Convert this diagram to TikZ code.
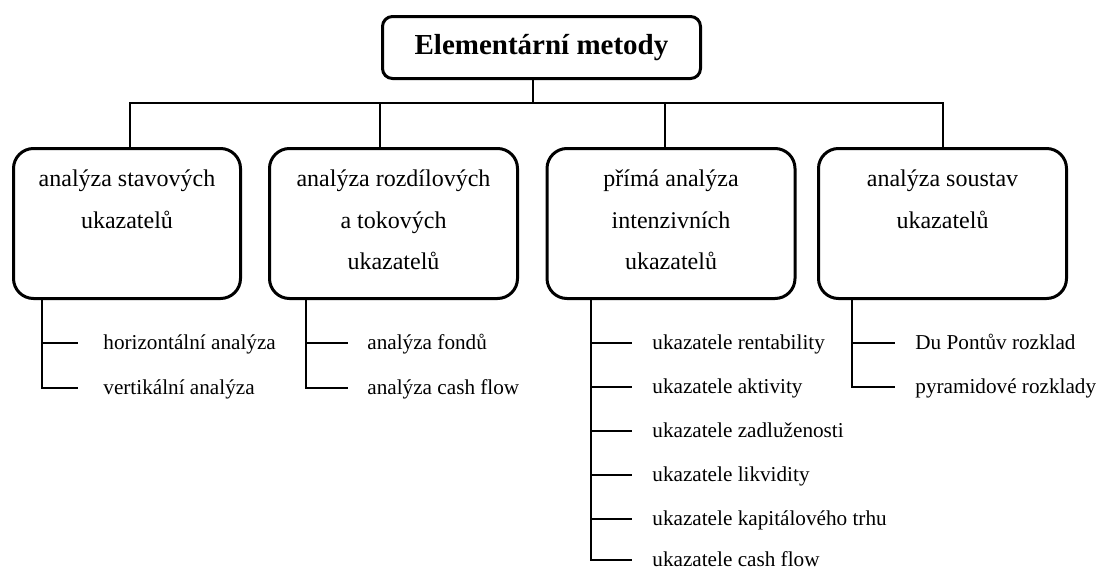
\documentclass[tikz,border=0pt]{standalone}
\usepackage{fontspec}
\setmainfont{Liberation Serif}
\newcommand{\cattext}[1]{\parbox[c][75pt][t]{110pt}{\centering\rule{0pt}{19pt}#1}}
\begin{document}
\begin{tikzpicture}[x=0.5pt, y=-0.5pt,
    link/.style={line width=0.8pt},
    titlebox/.style={draw, line width=1.5pt, rounded corners=5pt, inner sep=0pt,
        minimum width=159pt, minimum height=31pt, font=\fontsize{14.5}{17}\selectfont\bfseries},
    catbox/.style={draw, line width=1.5pt, rounded corners=10pt, anchor=north, inner sep=0pt,
        minimum width=124pt, minimum height=75pt, font=\fontsize{12}{20.75}\selectfont},
    item/.style={anchor=west, inner sep=0pt, text height=1.6ex, text depth=.25ex,
        font=\fontsize{10.6}{12}\selectfont}]
    \useasboundingbox (0,0) rectangle (1097,568);
    % hlavni uzel
    \node[titlebox] (elem) at (541.5,47.5) {Elementární metody};
    % skupiny metod
    \node[catbox, minimum width=113.5pt] (stav) at (127,147) {\cattext{analýza stavových\\ukazatelů}};
    \node[catbox] (rozd) at (393.5,147) {\cattext{analýza rozdílových\\a tokových\\ukazatelů}};
    \node[catbox] (prima) at (671,147) {\cattext{přímá analýza\\intenzivních\\ukazatelů}};
    \node[catbox] (soust) at (942.5,147) {\cattext{analýza soustav\\ukazatelů}};
    \draw[link] ([xshift=-4.25pt]elem.south) -- ++(0,24);
    \draw[link] ([xshift=1.5pt]stav.north) -- ++(0,-44) -| ([xshift=.25pt]soust.north);
    \draw[link] ([xshift=-6.75pt]rozd.north) -- ++(0,-44);
    \draw[link] ([xshift=-3pt]prima.north) -- ++(0,-44);
    % polozky
    \foreach \n/\y/\txt in {horiz/343/horizontální analýza, vertik/388/vertikální analýza}{
        \node[item] (\n) at (103,\y) {\txt};
        \draw[link] ([xshift=-42.5pt]stav.south) |- ([xshift=-12.5pt]\n.west);
    }
    \foreach \n/\y/\txt in {fondy/343/analýza fondů, cashf/388/analýza cash flow}{
        \node[item] (\n) at (367,\y) {\txt};
        \draw[link] ([xshift=-43.75pt]rozd.south) |- ([xshift=-9.5pt]\n.west);
    }
    \foreach \n/\y/\txt in {rent/343/ukazatele rentability, aktiv/387/ukazatele aktivity,
        zadl/431/ukazatele zadluženosti, likv/475/ukazatele likvidity,
        kapit/519/ukazatele kapitálového trhu, cfi/560/ukazatele cash flow}{
        \node[item] (\n) at (652,\y) {\txt};
        \draw[link] ([xshift=-40pt]prima.south) |- ([xshift=-10pt]\n.west);
    }
    \foreach \n/\y/\txt in {dupont/343/Du Pontův rozklad, pyram/387/pyramidové rozklady}{
        \node[item] (\n) at (915,\y) {\txt};
        \draw[link] ([xshift=-45.25pt]soust.south) |- ([xshift=-10pt]\n.west);
    }
\end{tikzpicture}
\end{document}
